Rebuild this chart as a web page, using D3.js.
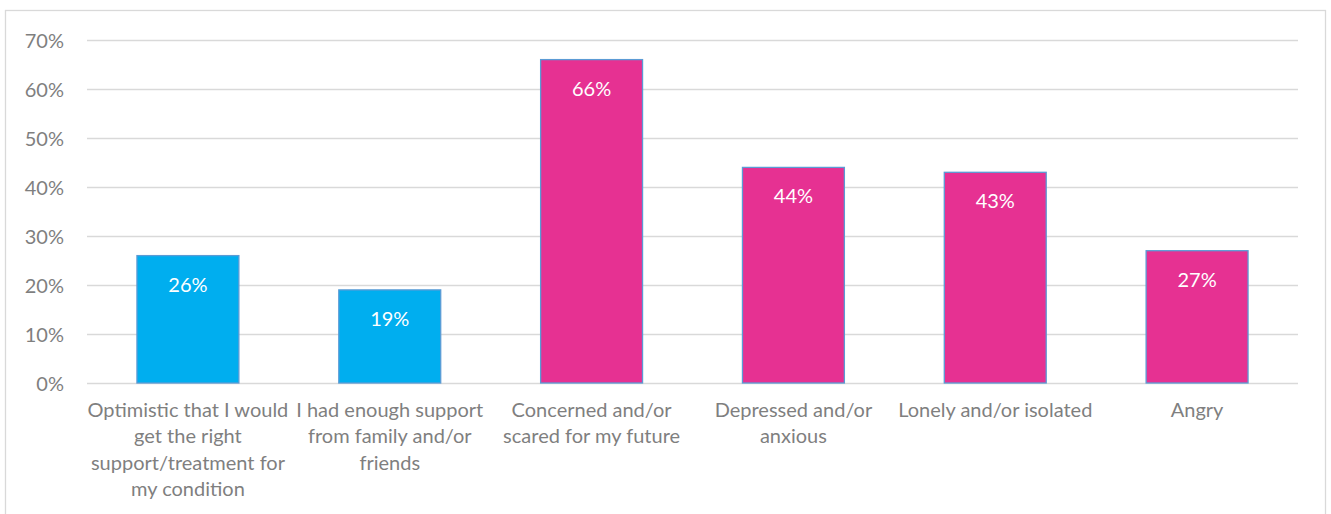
<!DOCTYPE html>
<html>
<head>
<meta charset="utf-8">
<script src="https://cdn.jsdelivr.net/npm/d3@7"></script>
<style>
  html, body { margin: 0; padding: 0; background: #fff; }
  svg { display: block; }
  text { font-family: Lato, "Open Sans", sans-serif; }
</style>
</head>
<body>
<svg id="chart" width="1331" height="514"></svg>
<script>
// Survey responses: share of respondents reporting each feeling
const categories = [
  "Optimistic that I would\nget the right\nsupport/treatment for\nmy condition",
  "I had enough support\nfrom family and/or\nfriends",
  "Concerned and/or\nscared for my future",
  "Depressed and/or\nanxious",
  "Lonely and/or isolated",
  "Angry"
];
const values = [26, 19, 66, 44, 43, 27];
const groups = ["positive", "positive", "negative", "negative", "negative", "negative"];
const yTicks = [0, 10, 20, 30, 40, 50, 60, 70];

const W = 1331, H = 514;
const margin = { left: 87, right: 33, top: 40, bottom: 131 };
const fontSize = "20px";
const svg = d3.select("#chart");

// outer chart frame
svg.append("rect")
  .attr("x", 5.5).attr("y", 10.5)
  .attr("width", 1320).attr("height", 520)
  .attr("fill", "#fff").attr("stroke", "#d9d9d9").attr("stroke-width", 1.3);

const x = d3.scaleBand()
  .domain(categories)
  .range([margin.left, W - margin.right])
  .paddingInner(0.495)
  .paddingOuter(0.2475);

const y = d3.scaleLinear()
  .domain([0, 70])
  .range([H - margin.bottom, margin.top]);

const colour = d3.scaleOrdinal()
  .domain(["positive", "negative"])
  .range(["#00aeef", "#e63192"]);

// horizontal gridlines
svg.append("g")
  .selectAll("line")
  .data(yTicks)
  .join("line")
  .attr("x1", margin.left).attr("x2", W - margin.right)
  .attr("y1", d => Math.round(y(d)) + 0.5).attr("y2", d => Math.round(y(d)) + 0.5)
  .attr("stroke", "#d9d9d9").attr("stroke-width", 1.5);

// y axis labels
const yAxis = d3.axisLeft(y)
  .tickValues(yTicks)
  .tickFormat(d => d + "%")
  .tickSize(0)
  .tickPadding(0);
const gy = svg.append("g")
  .attr("transform", `translate(${margin.left - 23},0)`)
  .call(yAxis);
gy.select(".domain").remove();
gy.selectAll("text")
  .attr("fill", "#7f7f7f")
  .style("font-size", fontSize)
  .attr("dy", "0.35em");

// bars
svg.append("g")
  .selectAll("rect")
  .data(values)
  .join("rect")
  .attr("x", (d, i) => x(categories[i]))
  .attr("y", d => y(d))
  .attr("width", x.bandwidth())
  .attr("height", d => y(0) - y(d))
  .attr("fill", (d, i) => colour(groups[i]))
  .attr("stroke", "#5b9bd5")
  .attr("stroke-width", 1.3);

// value labels inside bar tops
svg.append("g")
  .selectAll("text")
  .data(values)
  .join("text")
  .attr("x", (d, i) => x(categories[i]) + x.bandwidth() / 2)
  .attr("y", d => y(d) + 29)
  .attr("dy", "0.35em")
  .attr("text-anchor", "middle")
  .attr("fill", "#ffffff")
  .style("font-size", fontSize)
  .text(d => d + "%");

// category labels, wrapped onto several lines
const xAxis = d3.axisBottom(x).tickSize(0).tickPadding(0).tickFormat("");
const gx = svg.append("g")
  .attr("transform", `translate(0,${y(0)})`)
  .call(xAxis);
gx.select(".domain").remove();
gx.selectAll(".tick").each(function(d) {
  const t = d3.select(this).append("text")
    .attr("text-anchor", "middle")
    .attr("fill", "#7f7f7f")
    .style("font-size", fontSize);
  d.split("\n").forEach((line, k) => {
    t.append("tspan")
      .attr("x", 0)
      .attr("y", 34 + k * 26.3)
      .text(line);
  });
});
</script>
</body>
</html>
